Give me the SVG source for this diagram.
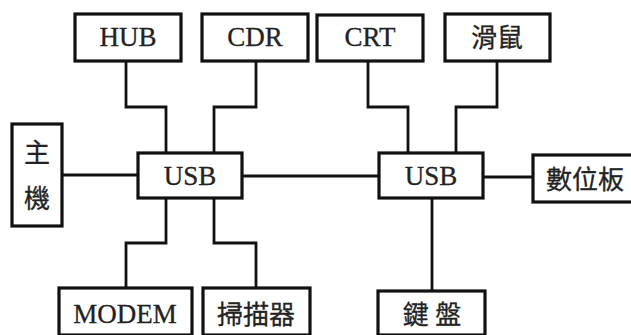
<svg xmlns="http://www.w3.org/2000/svg" width="631" height="335" viewBox="0 0 631 335">
<style>
.box{fill:#fff;stroke:#111;stroke-width:3.2}
.ln{fill:none;stroke:#111;stroke-width:2.8}
text{font-family:"Liberation Serif","Noto Sans CJK TC","Noto Sans CJK SC",serif;font-size:26px;fill:#222;text-anchor:middle;stroke:#222;stroke-width:0.3}
.lat{font-size:27px}
</style>
<rect width="631" height="335" fill="#fff"/>
<g id="connectors">
<path class="ln" d="M126,61 V107 H166 V153"/>
<path class="ln" d="M256,61 V107 H214 V153"/>
<path class="ln" d="M368,61 V107 H408 V153"/>
<path class="ln" d="M497,61 V107 H456 V153"/>
<path class="ln" d="M62,175 H138"/>
<path class="ln" d="M242,176 H379"/>
<path class="ln" d="M483,177 H533"/>
<path class="ln" d="M126,288 V243 H166 V198"/>
<path class="ln" d="M256,288 V243 H214 V198"/>
<path class="ln" d="M432,198 V291"/>
</g>
<g id="hub"><rect class="box" x="75" y="14" width="106" height="47"/><text class="lat" x="128" y="46">HUB</text></g>
<g id="cdr"><rect class="box" x="202" y="14" width="106" height="47"/><text class="lat" x="255" y="46">CDR</text></g>
<g id="crt"><rect class="box" x="317" y="15" width="106" height="46"/><text class="lat" x="370" y="46">CRT</text></g>
<g id="mouse"><rect class="box" x="445" y="14" width="105" height="47"/><text x="497" y="47">滑鼠</text></g>
<g id="host"><rect class="box" x="12" y="124" width="50" height="102"/><text x="37" y="162">主</text><text x="37" y="208">機</text></g>
<g id="usb1"><rect class="box" x="138" y="153" width="104" height="45"/><text class="lat" x="190" y="185">USB</text></g>
<g id="usb2"><rect class="box" x="379" y="153" width="104" height="45"/><text class="lat" x="431" y="185">USB</text></g>
<g id="tablet"><rect class="box" x="533" y="155" width="110" height="47"/><text x="585" y="189">數位板</text></g>
<g id="modem"><rect class="box" x="59" y="288" width="133" height="47"/><text class="lat" x="125" y="323">MODEM</text></g>
<g id="scanner"><rect class="box" x="203" y="288" width="107" height="47"/><text x="256" y="324">掃描器</text></g>
<g id="keyboard"><rect class="box" x="378" y="291" width="107" height="44"/><text x="432" y="324">鍵 盤</text></g>
</svg>
